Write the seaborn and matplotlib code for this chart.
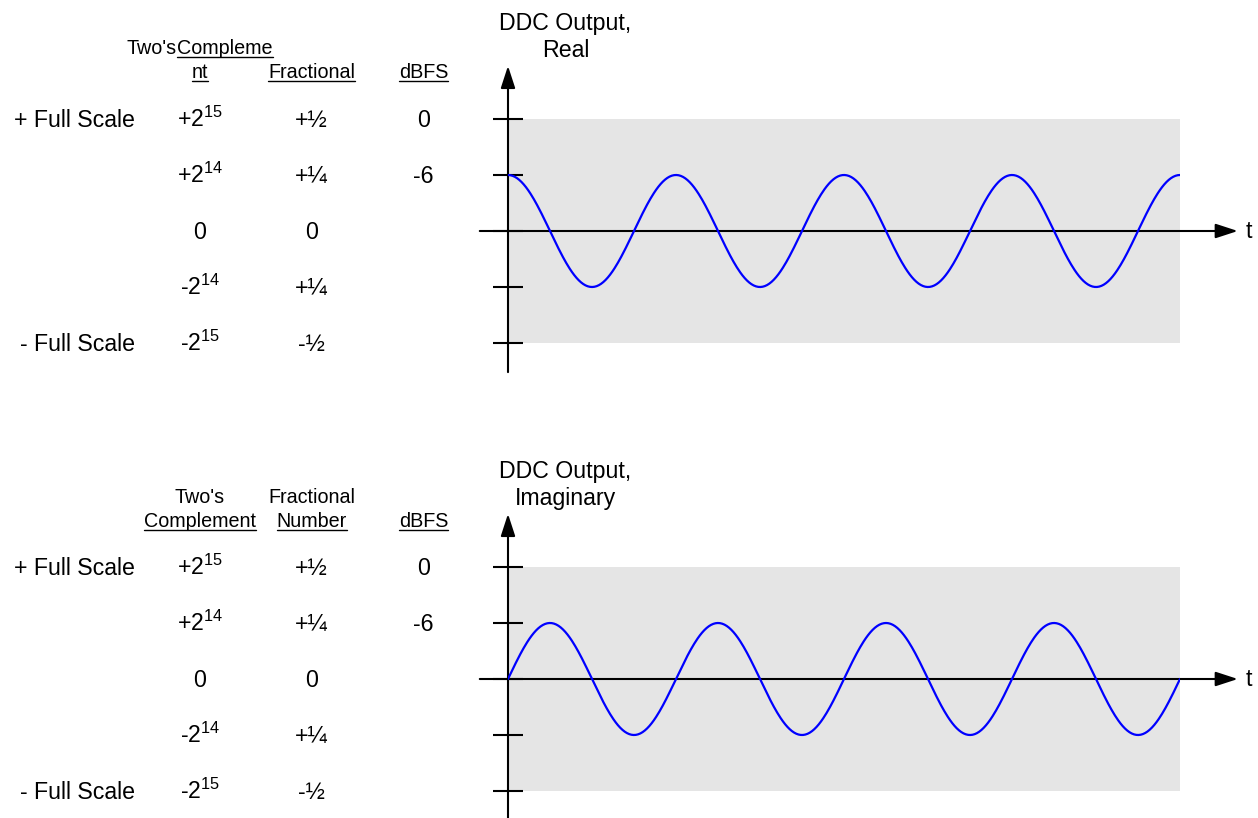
import numpy as np
import pandas as pd
import seaborn as sns
import matplotlib
matplotlib.use("Agg")
import matplotlib.pyplot as plt
from matplotlib import transforms
from matplotlib.lines import Line2D
from matplotlib.patches import ArrowStyle

# ---- values -------------------------------------------------------------
levels = [0.5, 0.25, 0.0, -0.25, -0.5]
row_labels = ["+ Full Scale", "", "", "", "- Full Scale"]
twos_complement = ["+2$^{15}$", "+2$^{14}$", "0", "-2$^{14}$", "-2$^{15}$"]
fractional = ["+½", "+¼", "0", "+¼", "-½"]
dbfs = ["0", "-6", "", "", ""]
panel_titles = [("DDC Output,", "Real"), ("DDC Output,", "Imaginary")]
cycles = 4          # full periods shown across the shaded band
amplitude = 0.25    # -6 dBFS, i.e. a quarter of full scale

# ---- style --------------------------------------------------------------
sns.set_theme(style="white")
plt.rcParams["font.family"] = ["Liberation Sans", "DejaVu Sans"]
plt.rcParams["text.color"] = "black"
plt.rcParams["mathtext.fontset"] = "custom"
plt.rcParams["mathtext.rm"] = "Liberation Sans"
plt.rcParams["mathtext.it"] = "Liberation Sans"
plt.rcParams["mathtext.bf"] = "Liberation Sans:bold"

W, H = 1258, 818
fig = plt.figure(figsize=(W / 100, H / 100), dpi=100)
fig.patch.set_facecolor("white")

# pixel coordinates measured from the top-left corner
px = transforms.Affine2D().scale(1 / W, -1 / H).translate(0, 1) + fig.transFigure

BIG = 16.7
SMALL = 14.2
GRAY = "#e5e5e5"
BLUE = "#0000ff"

t = np.linspace(0, cycles, 600)
waves = [
    pd.DataFrame({"t": t, "value": amplitude * np.cos(2 * np.pi * t)}),
    pd.DataFrame({"t": t, "value": amplitude * np.sin(2 * np.pi * t)}),
]

underlined = []
panel_step = 448

for k, (df, title) in enumerate(zip(waves, panel_titles)):
    top = 119 + k * panel_step
    ax = fig.add_axes([508 / W, (H - (top + 224)) / H, 672 / W, 224 / H])
    ax.set_facecolor(GRAY)
    for s in ax.spines.values():
        s.set_visible(False)

    sns.lineplot(data=df, x="t", y="value", ax=ax, color=BLUE, linewidth=1.6,
                 zorder=5)
    ax.set_xlim(0, cycles)
    ax.set_ylim(-0.5, 0.5)
    ax.set_xlabel("")
    ax.set_ylabel("")
    ax.set_xticks([])
    ax.set_yticks(levels)
    ax.tick_params(axis="y", direction="inout", length=21.6, width=1.5,
                   color="black", labelleft=False, left=True)

    head = ArrowStyle("-|>", head_length=1.35, head_width=0.44)
    # vertical axis
    ax.annotate("", xy=(0, 1.237), xytext=(0, -0.13), xycoords="axes fraction",
                arrowprops=dict(arrowstyle=head, mutation_scale=10, lw=1.5,
                                color="black", shrinkA=0, shrinkB=0),
                annotation_clip=False, zorder=3)
    # time axis
    ax.annotate("", xy=(1.086, 0), xytext=(-0.042, 0),
                xycoords=("axes fraction", "data"),
                arrowprops=dict(arrowstyle=head, mutation_scale=10, lw=1.5,
                                color="black", shrinkA=0, shrinkB=0),
                annotation_clip=False, zorder=3)
    fig.text(1246, 238 + k * panel_step, "t", transform=px, fontsize=BIG,
             ha="left", va="baseline")

    # axis title
    fig.text(565.5, 30 + k * panel_step, title[0], transform=px, fontsize=BIG,
             ha="center", va="baseline")
    fig.text(565.5, 57 + k * panel_step, title[1], transform=px, fontsize=BIG,
             ha="center", va="baseline")

    # level table, rows aligned with the tick levels
    row_tr = transforms.blended_transform_factory(px, ax.transData)
    row_tr = transforms.offset_copy(row_tr, fig=fig, y=-5.8, units="points")
    for lvl, lab, tc, fr, db in zip(levels, row_labels, twos_complement,
                                    fractional, dbfs):
        fig.text(135, lvl, lab, transform=row_tr, fontsize=BIG,
                 ha="right", va="baseline")
        fig.text(200, lvl, tc, transform=row_tr, fontsize=BIG,
                 ha="center", va="baseline")
        fig.text(311.5, lvl, fr, transform=row_tr, fontsize=BIG,
                 ha="center", va="baseline")
        fig.text(423.5, lvl, db, transform=row_tr, fontsize=BIG,
                 ha="center", va="baseline")

# column headings
def heading(x, y, s, ha="center", underline=False):
    txt = fig.text(x, y, s, transform=px, fontsize=SMALL, ha=ha, va="baseline")
    if underline:
        underlined.append((txt, y))
    return txt

# real panel
heading(177, 54, "Two's", ha="right")
heading(177, 54, "Compleme", ha="left", underline=True)
heading(200, 78, "nt", underline=True)
heading(311.5, 78, "Fractional", underline=True)
heading(423.5, 78, "dBFS", underline=True)

# imaginary panel
heading(200, 503, "Two's")
heading(200, 527, "Complement", underline=True)
heading(312, 503, "Fractional")
heading(312, 527, "Number", underline=True)
heading(423.5, 527, "dBFS", underline=True)

fig.canvas.draw()
renderer = fig.canvas.get_renderer()
for txt, y in underlined:
    bb = txt.get_window_extent(renderer)
    fig.add_artist(Line2D([bb.x0, bb.x1], [y + 2.5, y + 2.5], transform=px,
                          color="black", lw=1.0))

fig.savefig("out.png", dpi=100, facecolor="white")
